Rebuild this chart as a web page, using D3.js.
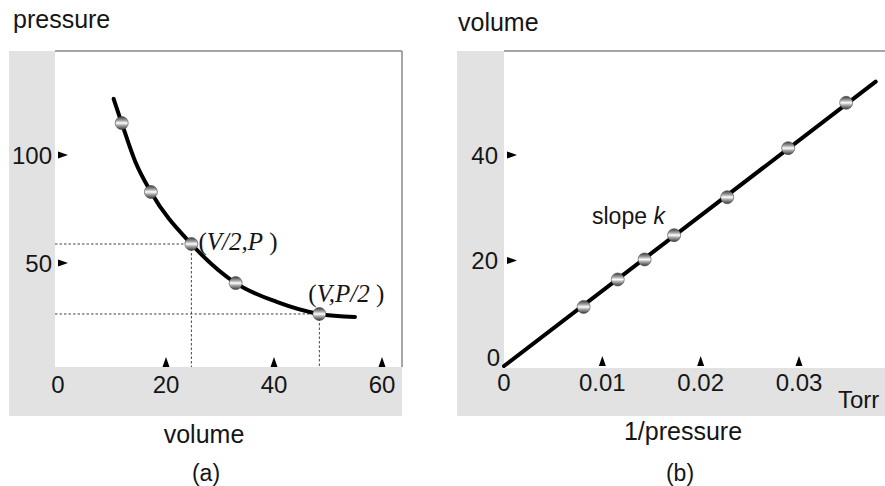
<!DOCTYPE html>
<html>
<head>
<meta charset="utf-8">
<script src="https://cdn.jsdelivr.net/npm/d3@7"></script>
<style>
  body { margin: 0; background: #fff; }
  text { font-family: "Liberation Sans", Arial, sans-serif; fill: #151515; }
  .serif { font-family: "Liberation Serif", "DejaVu Serif", serif; }
</style>
</head>
<body>
<div id="chart"></div>
<script>
// panel (a): pressure vs volume
const volA = [11.8, 17.2, 24.7, 32.9, 48.4];
const presA = [114.8, 82.9, 58.8, 40.7, 26.4];
const curveVol = [10.3, 11.8, 14.3, 17.2, 24.7, 32.9, 40.5, 48.4, 55];
const curvePres = [126, 114.8, 97, 82.9, 58.8, 40.7, 32, 26.4, 25];
const xTicksA = [20, 40, 60];
const xLabelsA = [0, 20, 40, 60];
const yTicksA = [50, 100];

// panel (b): volume vs 1/pressure
const invP = [0.0081, 0.01157, 0.0143, 0.0173, 0.0227, 0.0289, 0.0348];
const volB = [11.2, 16.4, 20.2, 24.8, 32.0, 41.3, 49.9];
const lineInvP = [0, 0.0378];
const lineVol = [0, 53.9];
const xTicksB = [0.01, 0.02, 0.03];
const xLabelsB = ["0", "0.01", "0.02", "0.03"];
const yTicksB = [20, 40];

const W = 885, H = 486;
const grey = "#e2e2e2";

const svg = d3.select("#chart").append("svg")
  .attr("width", W).attr("height", H);

// bead gradient for the data markers
let grad = svg.append("defs").append("linearGradient")
  .attr("id", "bead").attr("x1", 0).attr("y1", 0).attr("x2", 0).attr("y2", 1);
[[0, "#3a3a3a"], [0.3, "#a0a0a0"], [0.5, "#ffffff"], [0.68, "#a8a8a8"], [1, "#3a3a3a"]]
  .forEach(s => grad.append("stop").attr("offset", s[0]).attr("stop-color", s[1]));

function frame(g, left, right, top, bottom, stripX, bandBottom, rightBorder) {
  // L-shaped grey strip (left + bottom)
  g.append("rect").attr("x", stripX).attr("y", top)
    .attr("width", left - stripX).attr("height", bandBottom - top).attr("fill", grey);
  g.append("rect").attr("x", stripX).attr("y", bottom)
    .attr("width", right - stripX).attr("height", bandBottom - bottom).attr("fill", grey);
  g.append("line").attr("x1", left).attr("x2", right).attr("y1", top).attr("y2", top)
    .attr("stroke", "#888").attr("stroke-width", 1.5);
  if (rightBorder) {
    g.append("line").attr("x1", right).attr("x2", right).attr("y1", top).attr("y2", bottom)
      .attr("stroke", "#888").attr("stroke-width", 1.5);
  }
}

function upTri(x, y) { return `M${x - 3.5},${y} L${x + 3.5},${y} L${x},${y - 10} Z`; }
function rightTri(x, y) { return `M${x},${y - 3.5} L${x},${y + 3.5} L${x + 10},${y} Z`; }

function beads(g, pts) {
  g.selectAll("circle.bead").data(pts).enter().append("circle")
    .attr("class", "bead")
    .attr("cx", d => d[0]).attr("cy", d => d[1]).attr("r", 6.5)
    .attr("fill", "url(#bead)").attr("stroke", "#444").attr("stroke-width", 0.6);
}

// ---------------- panel (a) ----------------
let ga = svg.append("g");
let xA = d3.scaleLinear().domain([0, 60]).range([58, 382]);
let yA = d3.scaleLinear().domain([0, 100]).range([371, 155]);
const aBottom = 367;
frame(ga, 55, 402, 51, aBottom, 9, 416, true);

// dotted guides to (V/2,P) and (V,P/2)
[2, 4].forEach(i => {
  let px = xA(volA[i]), py = yA(presA[i]);
  ga.append("line").attr("x1", 55).attr("x2", px).attr("y1", py).attr("y2", py)
    .attr("stroke", "#444").attr("stroke-width", 1).attr("stroke-dasharray", "2.5,2");
  ga.append("line").attr("x1", px).attr("x2", px).attr("y1", py).attr("y2", aBottom)
    .attr("stroke", "#444").attr("stroke-width", 1).attr("stroke-dasharray", "2.5,2");
});

let curveA = d3.line().x(d => xA(d[0])).y(d => yA(d[1])).curve(d3.curveMonotoneX);
ga.append("path").datum(d3.zip(curveVol, curvePres)).attr("d", curveA)
  .attr("fill", "none").attr("stroke", "#000").attr("stroke-width", 4).attr("stroke-linecap", "round");
beads(ga, d3.zip(volA.map(xA), presA.map(yA)));

ga.selectAll("path.xt").data(xTicksA).enter().append("path").attr("class", "xt")
  .attr("d", d => upTri(xA(d), aBottom)).attr("fill", "#000");
ga.selectAll("path.yt").data(yTicksA).enter().append("path").attr("class", "yt")
  .attr("d", d => rightTri(58, yA(d))).attr("fill", "#000");
ga.selectAll("text.xl").data(xLabelsA).enter().append("text").attr("class", "xl")
  .attr("x", d => xA(d)).attr("y", 393).attr("text-anchor", "middle")
  .attr("font-size", 24).text(d => d);
ga.selectAll("text.yl").data(yTicksA).enter().append("text").attr("class", "yl")
  .attr("x", 52).attr("y", d => yA(d) + 8.5).attr("text-anchor", "end")
  .attr("font-size", 24).text(d => d);

ga.append("text").attr("x", 13).attr("y", 28).attr("font-size", 25).text("pressure");
ga.append("text").attr("x", 204).attr("y", 443).attr("text-anchor", "middle").attr("font-size", 25).text("volume");
ga.append("text").attr("x", 206).attr("y", 481).attr("text-anchor", "middle").attr("font-size", 23).text("(a)");

function pointLabel(g, x, y, parts) {
  let t = g.append("text").attr("class", "serif").attr("x", x).attr("y", y).attr("font-size", 25);
  parts.forEach(p => t.append("tspan").attr("font-style", p[1] ? "italic" : "normal").text(p[0]));
}
pointLabel(ga, xA(volA[2]) + 7, yA(presA[2]) + 6, [["(", 0], ["V/2,P", 1], ["  )", 0]]);
pointLabel(ga, xA(volA[4]) - 11, yA(presA[4]) - 12, [["(", 0], ["V,P/2", 1], ["  )", 0]]);

// ---------------- panel (b) ----------------
let gb = svg.append("g");
let xB = d3.scaleLinear().domain([0, 0.03]).range([504, 799]);
let yB = d3.scaleLinear().domain([0, 40]).range([366, 155]);
const bBottom = 368;
frame(gb, 504, W, 51, bBottom, 457, 416, false);

let lineB = d3.line().x(d => xB(d[0])).y(d => yB(d[1]));
gb.append("path").datum(d3.zip(lineInvP, lineVol)).attr("d", lineB)
  .attr("fill", "none").attr("stroke", "#000").attr("stroke-width", 4).attr("stroke-linecap", "round");
beads(gb, d3.zip(invP.map(xB), volB.map(yB)));

gb.selectAll("path.xt").data(xTicksB).enter().append("path").attr("class", "xt")
  .attr("d", d => upTri(xB(d), bBottom - 2)).attr("fill", "#000");
gb.selectAll("path.yt").data(yTicksB).enter().append("path").attr("class", "yt")
  .attr("d", d => rightTri(507, yB(d))).attr("fill", "#000");
gb.selectAll("text.xl").data(xLabelsB).enter().append("text").attr("class", "xl")
  .attr("x", d => xB(+d)).attr("y", 391).attr("text-anchor", "middle")
  .attr("font-size", 24).text(d => d);
gb.selectAll("text.yl").data(yTicksB).enter().append("text").attr("class", "yl")
  .attr("x", 498).attr("y", d => yB(d) + 8.5).attr("text-anchor", "end")
  .attr("font-size", 24).text(d => d);
gb.append("text").attr("x", 500).attr("y", 366).attr("text-anchor", "end").attr("font-size", 24).text("0");

gb.append("text").attr("x", 838).attr("y", 408).attr("font-size", 24).text("Torr");
gb.append("text").attr("x", 458).attr("y", 31).attr("font-size", 25).text("volume");
gb.append("text").attr("x", 683).attr("y", 440).attr("text-anchor", "middle").attr("font-size", 25).text("1/pressure");
gb.append("text").attr("x", 680).attr("y", 481).attr("text-anchor", "middle").attr("font-size", 23).text("(b)");

let sl = gb.append("text").attr("x", 592).attr("y", 224).attr("font-size", 23);
sl.append("tspan").text("slope ");
sl.append("tspan").attr("font-style", "italic").text("k");
</script>
</body>
</html>
